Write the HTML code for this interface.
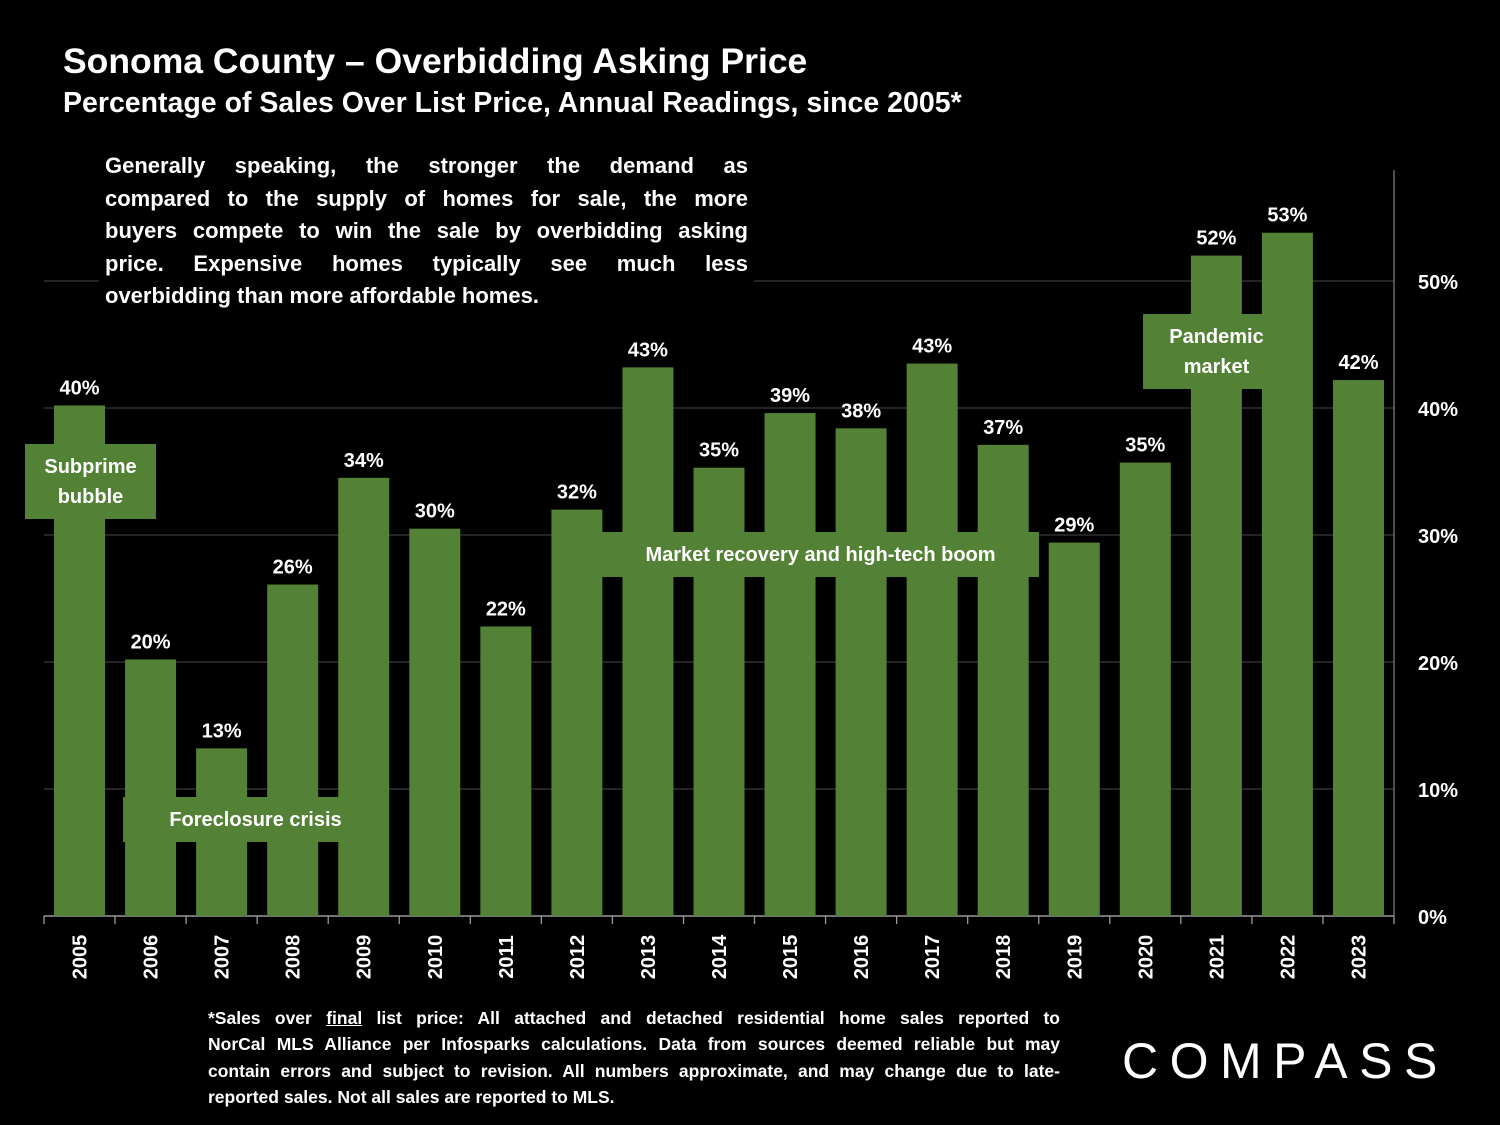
<!DOCTYPE html>
<html><head><meta charset="utf-8"><style>
body{margin:0;background:#000;width:1500px;height:1125px;overflow:hidden;font-family:"Liberation Sans",sans-serif;color:#fff;position:relative}
.t{position:absolute;font-weight:bold;white-space:nowrap}
.box{position:absolute;background:#538135;color:#fff;font-weight:bold;font-size:20px;display:flex;align-items:center;justify-content:center;text-align:center;line-height:30px}
.j{text-align:justify;text-align-last:justify;white-space:nowrap}
.l{text-align:left;white-space:nowrap}
</style></head><body>
<div class="t" style="left:63px;top:41px;font-size:35.5px">Sonoma County – Overbidding Asking Price</div>
<div class="t" style="left:63px;top:87px;font-size:28.5px">Percentage of Sales Over List Price, Annual Readings, since 2005*</div>
<svg id="chart" width="1500" height="1125" style="position:absolute;left:0;top:0"></svg>
<div style="position:absolute;left:99px;top:150px;width:643px;padding:0 6px 6px 6px;background:#000;font-weight:bold;font-size:22px;line-height:32.5px">
<div class="j">Generally speaking, the stronger the demand as</div>
<div class="j">compared to the supply of homes for sale, the more</div>
<div class="j">buyers compete to win the sale by overbidding asking</div>
<div class="j">price. Expensive homes typically see much less</div>
<div class="l">overbidding than more affordable homes.</div>
</div>
<div class="box" style="left:25px;top:444px;width:131px;height:75px">Subprime<br>bubble</div>
<div class="box" style="left:123px;top:797px;width:265px;height:45px">Foreclosure crisis</div>
<div class="box" style="left:602px;top:532px;width:437px;height:45px">Market recovery and high-tech boom</div>
<div class="box" style="left:1143px;top:314px;width:147px;height:75px">Pandemic<br>market</div>
<div style="position:absolute;left:208px;top:1005px;width:852px;font-weight:bold;font-size:17.5px;line-height:26.3px">
<div class="j">*Sales over <u>final</u> list price: All attached and detached residential home sales reported to</div>
<div class="j">NorCal MLS Alliance per Infosparks calculations. Data from sources deemed reliable but may</div>
<div class="j">contain errors and subject to revision. All numbers approximate, and may change due to late-</div>
<div class="l">reported sales. Not all sales are reported to MLS.</div>
</div>
<div class="t" style="left:1122px;top:1032px;font-size:50px;font-weight:normal;letter-spacing:11.5px">COMPASS</div>
<script>
const years=["2005","2006","2007","2008","2009","2010","2011","2012","2013","2014","2015","2016","2017","2018","2019","2020","2021","2022","2023"];
const values=[40.2,20.2,13.2,26.1,34.5,30.5,22.8,32.0,43.2,35.3,39.6,38.4,43.5,37.1,29.4,35.7,52.0,53.8,42.2];
const labels=["40%","20%","13%","26%","34%","30%","22%","32%","43%","35%","39%","38%","43%","37%","29%","35%","52%","53%","42%"];
const ticks=[0,10,20,30,40,50];
const ns="http://www.w3.org/2000/svg",svg=document.getElementById("chart");
const x0=44,x1=1394,y0=916,pxPer=12.7,step=(x1-x0)/years.length,bw=51;
const y=v=>y0-v*pxPer, xc=i=>x0+step*(i+0.5);
function mk(t,a,txt){const e=document.createElementNS(ns,t);for(const k in a)e.setAttribute(k,a[k]);if(txt!=null)e.textContent=txt;svg.appendChild(e);return e;}
ticks.forEach(t=>{
 if(t>0){const g=mk("line",{x1:x0,x2:x1,y1:y(t),y2:y(t),stroke:"#3a3a3a","stroke-width":1.3});
 
 }
 const l=mk("text",{x:1418,y:y(t)+8,fill:"#fff","font-size":20,"font-weight":"bold","font-family":"Liberation Sans"},t+"%");
 
 
});
mk("line",{x1:1394,x2:1394,y1:170,y2:y0,stroke:"#777","stroke-width":1.3});
mk("line",{x1:x0,x2:x1,y1:y0,y2:y0,stroke:"#999","stroke-width":1.5});
years.forEach((yr,i)=>{
 const cx=xc(i);
 mk("line",{x1:x0+step*i,x2:x0+step*i,y1:y0,y2:y0+8,stroke:"#999","stroke-width":1.3});
 const b=mk("rect",{x:cx-bw/2,y:y(values[i]),width:bw,height:y0-y(values[i]),fill:"#538135"});
 
 
 const v=mk("text",{x:cx,y:y(values[i])-11,fill:"#fff","font-size":20,"font-weight":"bold","text-anchor":"middle","font-family":"Liberation Sans"},labels[i]);
 
 
 const xl=mk("text",{x:0,y:0,fill:"#fff","font-size":20,"font-weight":"bold","text-anchor":"middle","font-family":"Liberation Sans",transform:`translate(${cx+7},957) rotate(-90)`},yr);
 
 
});
mk("line",{x1:x1,x2:x1,y1:y0,y2:y0+8,stroke:"#999","stroke-width":1.3});
</script>
</body></html>
